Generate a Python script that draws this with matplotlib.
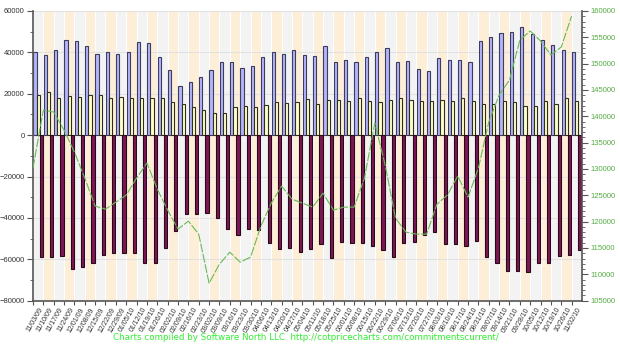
import matplotlib
matplotlib.use("Agg")
import matplotlib.pyplot as plt
from matplotlib.ticker import MultipleLocator

# weekly report dates
dates = ["11/03/09", "11/10/09", "11/17/09", "11/24/09", "12/01/09", "12/08/09", "12/15/09",
         "12/22/09", "12/29/09", "01/05/10", "01/12/10", "01/19/10", "01/26/10", "02/02/10",
         "02/09/10", "02/16/10", "02/23/10", "03/02/10", "03/09/10", "03/16/10", "03/23/10",
         "03/30/10", "04/06/10", "04/13/10", "04/20/10", "04/27/10", "05/04/10", "05/11/10",
         "05/18/10", "05/25/10", "06/01/10", "06/08/10", "06/15/10", "06/22/10", "06/29/10",
         "07/06/10", "07/13/10", "07/20/10", "07/27/10", "08/03/10", "08/10/10", "08/17/10",
         "08/24/10", "08/31/10", "09/07/10", "09/14/10", "09/21/10", "09/28/10", "10/05/10",
         "10/12/10", "10/19/10", "10/26/10", "11/02/10"]

# long positions (blue)
longs = [40350, 38760, 41180, 46010, 45530, 43110, 39090, 40060, 39090, 40060, 45190, 44710,
         37650, 31510, 23920, 25860, 27980, 31510, 35520, 35200, 32620, 33440, 37940, 40060,
         39240, 41030, 38910, 38130, 43260, 35230, 36340, 35230, 37940, 40360, 42140, 35230,
         35710, 31990, 31030, 37150, 36170, 36170, 35380, 45530, 47610, 49250, 49880, 52150,
         48910, 45870, 43740, 41180, 40360]

# spreading / other (pale yellow)
others = [19430, 21020, 18120, 19090, 18610, 19430, 19430, 17830, 18610, 18120, 17830, 17830,
          17830, 15900, 14930, 13480, 12180, 10580, 10580, 13770, 14110, 13770, 14450, 16190,
          15710, 16190, 17500, 15080, 17010, 17010, 16680, 17830, 16680, 15900, 17010, 17830,
          17010, 16680, 16680, 17010, 16680, 17830, 16680, 15080, 15080, 16680, 16190, 14110,
          14110, 16680, 15080, 17830, 16680]

# short positions (maroon)
shorts = [-58720, -58720, -58380, -64670, -63860, -61930, -57900, -57080, -57080, -57080,
          -61930, -61600, -54660, -46300, -38080, -38080, -37750, -40160, -45480, -48270,
          -45480, -45820, -51950, -55150, -54370, -56300, -55150, -52580, -59200, -51470,
          -51950, -51950, -53550, -55480, -58720, -52260, -51470, -48230, -46630, -52580,
          -52580, -53550, -50990, -59010, -61910, -65480, -65480, -65970, -61910, -61600,
          -58380, -57900, -55480]

# price (right axis)
price = [130170, 141190, 140810, 137390, 133210, 128270, 122950, 122380, 123710, 125040,
         128270, 131120, 126180, 122190, 118580, 120100, 117630, 108320, 111930, 114210,
         112310, 113260, 119150, 123520, 126750, 124280, 123520, 122760, 125420, 122190,
         122760, 122760, 128270, 138720, 130740, 120670, 118010, 117630, 117630, 123330,
         125040, 128650, 124660, 130170, 138910, 144040, 146890, 154490, 156200, 154300,
         151640, 153160, 159050]

n = len(dates)
weeks = list(range(n))

plt.rcParams["font.family"] = ["Liberation Sans", "DejaVu Sans"]

fig = plt.figure(figsize=(6.2, 3.5), dpi=100)
ax = fig.add_axes([0.0532, 0.141, 0.8855, 0.8276])

# alternating week bands
for i in weeks:
    ax.axvspan(i, i + 1, color="#f3f3f3" if i % 2 == 0 else "#fdeed8", lw=0, zorder=0)
    ax.axvline(i, color="white", lw=0.8, zorder=0.5)
for v in range(-60000, 60001, 20000):
    ax.axhline(v, color="#e2e2e2", lw=0.8, zorder=0.6)

w = 0.31
ax.bar([i + 0.03 for i in weeks], longs, width=w, align="edge", color="#b4b4fa",
       edgecolor="#3c3c5c", lw=0.8, zorder=2)
ax.bar([i + 0.34 for i in weeks], others, width=w, align="edge", color="#ffffcc",
       edgecolor="#2e2e20", lw=0.8, zorder=2)
ax.bar([i + 0.64 for i in weeks], shorts, width=w, align="edge", color="#7c1755",
       edgecolor="#2a0818", lw=0.8, zorder=2)

ax.set_xlim(0, n)
ax.set_ylim(-80000, 60000)
ax.yaxis.set_major_locator(MultipleLocator(20000))
ax.yaxis.set_minor_locator(MultipleLocator(10000))
ax.set_xticks(weeks)
ax.set_xticklabels([])
ax.set_xticks([i + 0.5 for i in weeks], minor=True)
ax.set_xticklabels(dates, minor=True, rotation=60, ha="right", va="top",
                   rotation_mode="anchor", fontsize=5, color="#333333")
ax.tick_params(axis="x", which="major", length=3, color="#555555")
ax.tick_params(axis="x", which="minor", length=0, pad=4)
ax.tick_params(axis="y", which="both", labelsize=5.5, colors="#555555",
               labelcolor="#333333", pad=2)
ax.tick_params(axis="y", which="major", length=4)
ax.tick_params(axis="y", which="minor", length=2)
for s in ["top", "right"]:
    ax.spines[s].set_visible(False)
for s in ["left", "bottom"]:
    ax.spines[s].set_color("#555555")
    ax.spines[s].set_linewidth(1.2)

ax2 = ax.twinx()
ax2.plot(weeks, price, color="#66bb55", lw=0.8, dashes=(8, 1.5), zorder=3)
ax2.set_ylim(105000, 160000)
ax2.yaxis.set_major_locator(MultipleLocator(5000))
ax2.yaxis.set_minor_locator(MultipleLocator(1000))
ax2.tick_params(axis="y", which="both", labelsize=5.5, colors="#555555",
                labelcolor="#55aa44", pad=2)
ax2.tick_params(axis="y", which="major", length=4)
ax2.tick_params(axis="y", which="minor", length=2)
for s in ["top", "left", "bottom"]:
    ax2.spines[s].set_visible(False)
ax2.spines["right"].set_color("#555555")
ax2.spines["right"].set_linewidth(1.2)

fig.text(0.494, 0.037, "Charts compiled by Software North LLC  http://cotpricecharts.com/commitmentscurrent/",
         ha="center", va="center", fontsize=6.3, color="#33ee33", family="DejaVu Sans")

fig.savefig("out.png", dpi=100)
